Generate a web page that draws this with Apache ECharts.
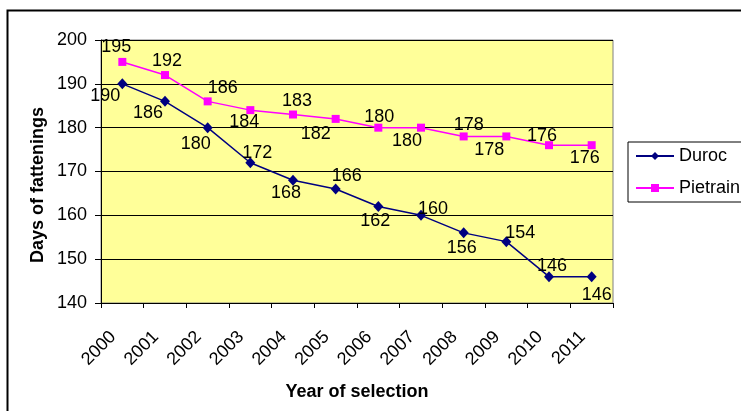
<!DOCTYPE html>
<html><head><meta charset="utf-8">
<script src="https://cdn.jsdelivr.net/npm/echarts@6/dist/echarts.min.js"></script>
<style>html,body{margin:0;padding:0;background:#fff}#c{width:741px;height:411px}</style>
</head><body><div id="c"></div>
<script>
var years = ['2000','2001','2002','2003','2004','2005','2006','2007','2008','2009','2010','2011'];
var duroc = [190,186,180,172,168,166,162,160,156,154,146,146];
var pietrain = [195,192,186,184,183,182,180,180,178,178,176,176];
var yTicks = {min:140, max:200, interval:10};
// label offsets (style only)
var durocOff = [[-17,12],[-17,12],[-12,16],[7,-10],[-7,13],[11,-13],[-3,14],[12,-6],[-2,15],[14,-9],[3,-11],[5,18]];
var pietOff = [[-6,-15],[2,-14],[15,-13],[-6,12],[4,-13],[-20,15],[1,-11],[-14,13],[5,-11],[-17,14],[-7,-9],[-7,13]];
var F = 'Arial, "Liberation Sans", sans-serif';
var FS = 18;
function mk(vals, offs){
  return vals.map(function(v,i){return {value:v, label:{offset:offs[i]}};});
}
var chart = echarts.init(document.getElementById('c'));
chart.setOption({
  animation:false,
  backgroundColor:'#fff',
  graphic:[
    {type:'rect', shape:{x:7.5,y:10.5,width:800,height:500}, style:{fill:'none',stroke:'#000',lineWidth:2}, z:-1},
    {type:'text', x:38, y:185, rotation:Math.PI/2, style:{text:'Days of fattenings', font:'bold 18px '+F, fill:'#000', align:'center', verticalAlign:'middle'}}
  ],
  grid:{left:101, right:128, top:40, bottom:108, show:true, backgroundColor:'#FFFF99', borderColor:'#808080', borderWidth:1},
  legend:{
    left:628, top:142, orient:'vertical', itemWidth:38, itemHeight:10, itemGap:14,
    borderColor:'#000', borderWidth:1, padding:[5,40,5,7],
    textStyle:{fontFamily:F, fontSize:FS, color:'#000'},
    data:['Duroc','Pietrain']
  },
  xAxis:{
    type:'category', data:years, boundaryGap:true,
    axisLine:{lineStyle:{color:'#000',width:1}},
    axisTick:{show:true, length:5, inside:false, lineStyle:{color:'#000'}},
    axisLabel:{rotate:45, fontFamily:F, fontSize:FS, color:'#000', margin:22, interval:0, padding:[0,13,0,0]},
    name:'Year of selection', nameLocation:'middle', nameGap:80,
    nameTextStyle:{fontFamily:F, fontSize:FS, fontWeight:'bold', color:'#000'}
  },
  yAxis:{
    type:'value', min:yTicks.min, max:yTicks.max, interval:yTicks.interval,
    axisLine:{show:true, lineStyle:{color:'#000',width:1}},
    axisTick:{show:true, length:6, lineStyle:{color:'#000'}},
    axisLabel:{fontFamily:F, fontSize:FS, color:'#000', margin:14},
    splitLine:{show:true, lineStyle:{color:'#000',width:1}}
  },
  series:[
    {name:'Duroc', type:'line', data:mk(duroc,durocOff), symbol:'diamond', symbolSize:[10,11],
     itemStyle:{color:'#000080'}, lineStyle:{color:'#000080',width:1.5},
     label:{show:true, position:'inside', fontFamily:F, fontSize:FS, color:'#000'}},
    {name:'Pietrain', type:'line', data:mk(pietrain,pietOff), symbol:'rect', symbolSize:8,
     itemStyle:{color:'#FF00FF'}, lineStyle:{color:'#FF00FF',width:1.5},
     label:{show:true, position:'inside', fontFamily:F, fontSize:FS, color:'#000'}}
  ]
});
</script></body></html>
